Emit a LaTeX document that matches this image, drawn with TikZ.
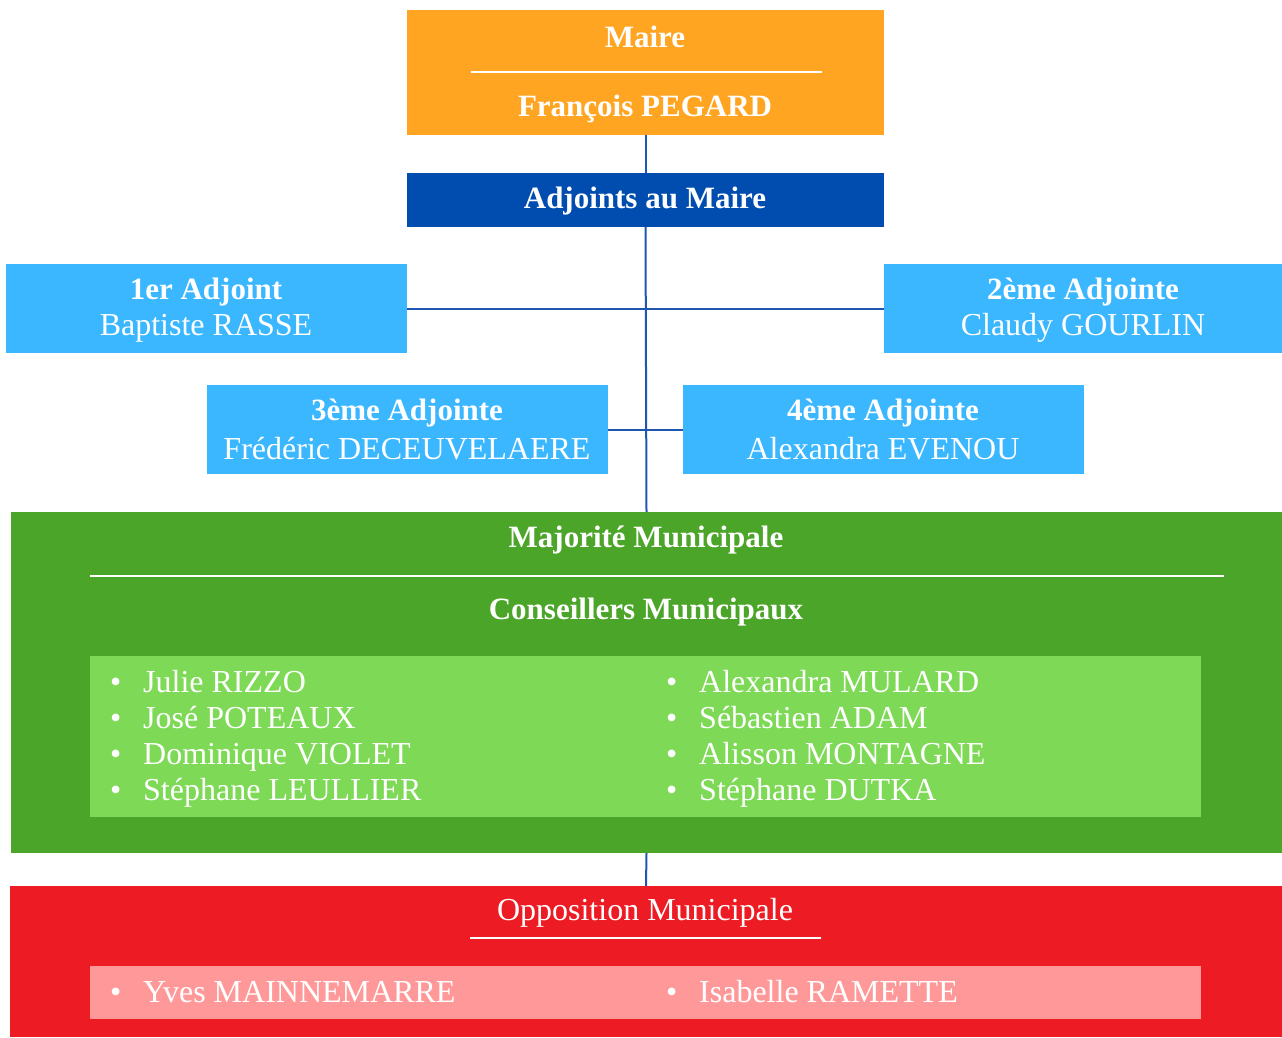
\documentclass[tikz,border=0pt]{standalone}
\usepackage{fontspec}
\setmainfont{Liberation Serif}
\definecolor{cOrange}{HTML}{FFA521}
\definecolor{cBlue}{HTML}{004DAF}
\definecolor{cSky}{HTML}{3BB7FF}
\definecolor{cGreen}{HTML}{4BA528}
\definecolor{cLightGreen}{HTML}{7ED957}
\definecolor{cRed}{HTML}{ED1C24}
\definecolor{cPink}{HTML}{FF9999}
\definecolor{cLine}{HTML}{1E56B0}
\begin{document}
\begin{tikzpicture}[x=1pt,y=-1pt,
  box/.style={draw=none,inner sep=0pt,outer sep=0pt,anchor=north west},
  txt/.style={text=white,font=\fontsize{32}{36}\selectfont,inner sep=0pt,yshift=-3pt},
  btxt/.style={text=white,font=\fontsize{31}{36}\selectfont\bfseries,inner sep=0pt,yshift=-3pt},
  item/.style={text=white,font=\fontsize{32}{36}\selectfont,inner sep=0pt,anchor=base west},
  conn/.style={draw=cLine,line width=2pt},
  rule/.style={draw=white,line width=2pt}]
\useasboundingbox (0,0) rectangle (1282,1037);
% boxes
\node[box,fill=cOrange,minimum width=477pt,minimum height=125pt] (maire) at (407,10) {};
\node[box,fill=cBlue,minimum width=477pt,minimum height=54pt] (adj) at (407,173) {};
\node[box,fill=cSky,minimum width=401pt,minimum height=89pt] (a1) at (6,264) {};
\node[box,fill=cSky,minimum width=398pt,minimum height=89pt] (a2) at (884,264) {};
\node[box,fill=cSky,minimum width=401pt,minimum height=89pt] (a3) at (207,385) {};
\node[box,fill=cSky,minimum width=401pt,minimum height=89pt] (a4) at (683,385) {};
\node[box,fill=cGreen,minimum width=1271pt,minimum height=341pt] (maj) at (11,512) {};
\node[box,fill=cLightGreen,minimum width=1111pt,minimum height=161pt] (majlist) at (90,656) {};
\node[box,fill=cRed,minimum width=1272pt,minimum height=151pt] (opp) at (10,886) {};
\node[box,fill=cPink,minimum width=1111pt,minimum height=53pt] (opplist) at (90,966) {};
% connectors
\draw[conn] (maire.south) -- (adj.north);
\draw[conn] (adj.south) -- (maj.north);
\draw[conn] (a1.east) -- (a2.west);
\draw[conn] (a3.east) -- (a4.west);
\draw[conn] (maj.south) -- (opp.north);
% Maire texts
\node[btxt] (tmaire) at (645,34) {Maire};
\coordinate (rm1) at (471,72);
\coordinate (rm2) at (822,72);
\draw[rule] (rm1) -- (rm2);
\node[btxt] (tpegard) at (645,106) {François PEGARD};
\node[btxt] (tadj) at (645,198) {Adjoints au Maire};
% adjoints
\node[btxt] (t1a) at (206,289) {1er Adjoint};
\node[txt] (t1b) at (206,325) {Baptiste RASSE};
\node[btxt] (t2a) at (1083,289) {2ème Adjointe};
\node[txt] (t2b) at (1083,325) {Claudy GOURLIN};
\node[btxt] (t3a) at (407,410) {3ème Adjointe};
\node[txt] (t3b) at (407,446) {Frédéric DECEUVELAERE};
\node[btxt] (t4a) at (883,410) {4ème Adjointe};
\node[txt] (t4b) at (883,446) {Alexandra EVENOU};
% majorite
\node[btxt] (tmaj) at (646,537) {Majorité Municipale};
\coordinate (rj1) at (90,576);
\coordinate (rj2) at (1224,576);
\draw[rule] (rj1) -- (rj2);
\node[btxt] (tcons) at (646,609) {Conseillers Municipaux};
\foreach \n/\y/\l/\r in {1/692/Julie RIZZO/Alexandra MULARD,
                         2/728/José POTEAUX/Sébastien ADAM,
                         3/764/Dominique VIOLET/Alisson MONTAGNE,
                         4/800/Stéphane LEULLIER/Stéphane DUTKA}{
  \node[item] (bl\n) at (110,\y) {•};
  \node[item] (il\n) at (143,\y) {\l};
  \node[item] (br\n) at (666,\y) {•};
  \node[item] (ir\n) at (699,\y) {\r};
}
% opposition
\node[txt] (topp) at (645,910) {Opposition Municipale};
\coordinate (ro1) at (470,938);
\coordinate (ro2) at (821,938);
\draw[rule] (ro1) -- (ro2);
\node[item] (bo1) at (110,1002) {•};
\node[item] (io1) at (143,1002) {Yves MAINNEMARRE};
\node[item] (bo2) at (666,1002) {•};
\node[item] (io2) at (699,1002) {Isabelle RAMETTE};
\end{tikzpicture}
\end{document}
